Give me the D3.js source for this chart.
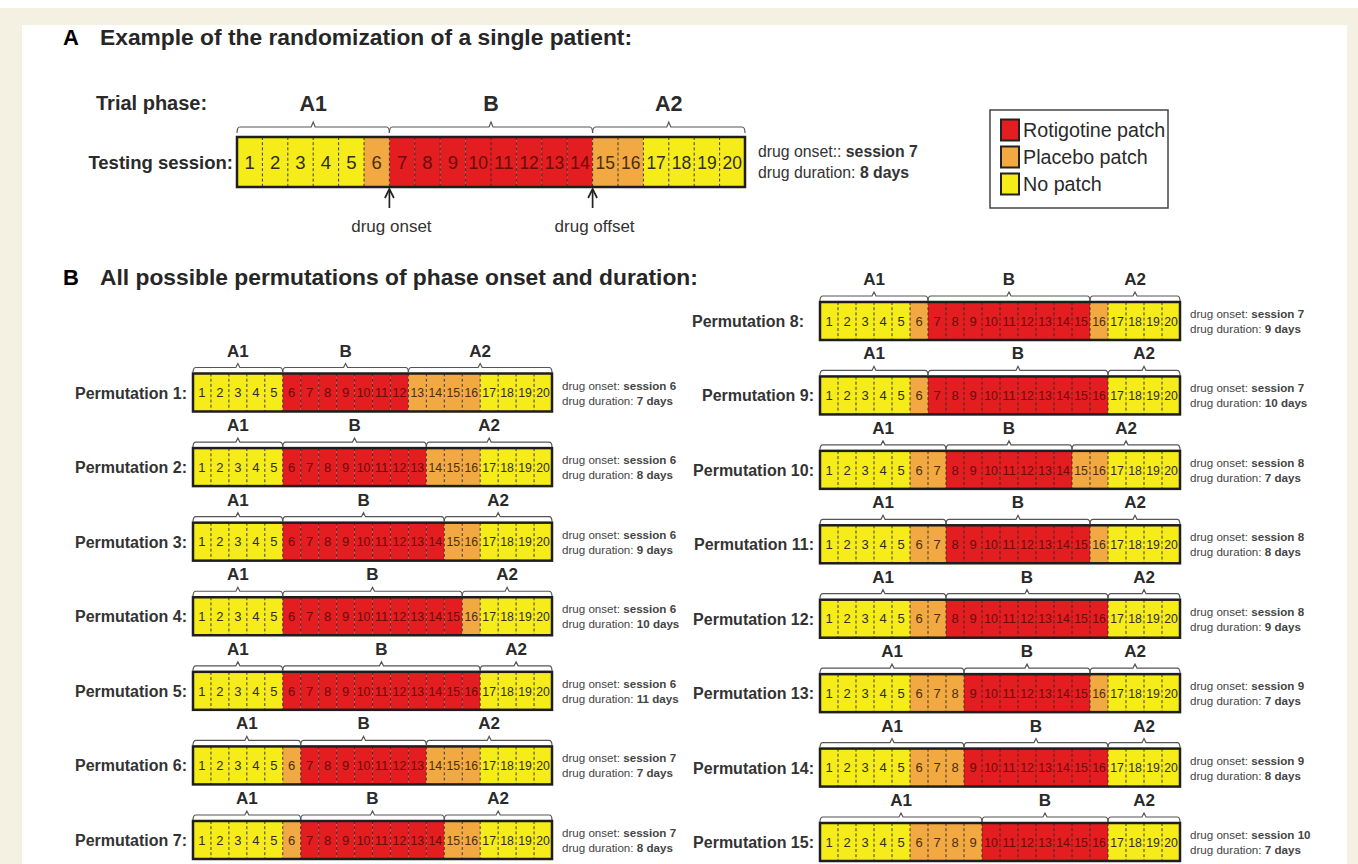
<!DOCTYPE html>
<html><head><meta charset="utf-8">
<script src="https://cdn.jsdelivr.net/npm/d3@7"></script>
<style>
body{margin:0;background:#fff;}
svg{display:block;font-family:Arial,"Liberation Sans",Helvetica,sans-serif;}
</style>
</head><body>
<svg id="chart" width="1358" height="864"></svg>
<script>
// ---------------- data ----------------
const sessions = [1,2,3,4,5,6,7,8,9,10,11,12,13,14,15,16,17,18,19,20];
const phaseNames = ["A1","B","A2"];
const patchCodes = ["R","P","N"];
const legendLabels = ["Rotigotine patch","Placebo patch","No patch"];
const patchColors = ["#e41d20","#f2a942","#f6ec19"];

const exampleOnset = 7;
const exampleDuration = 8;
const examplePatches = "NNNNNPRRRRRRRRPPNNNN";

const permNames = ["Permutation 1:","Permutation 2:","Permutation 3:","Permutation 4:","Permutation 5:",
  "Permutation 6:","Permutation 7:","Permutation 8:","Permutation 9:","Permutation 10:",
  "Permutation 11:","Permutation 12:","Permutation 13:","Permutation 14:","Permutation 15:"];
const permOnsets =    [6,6,6,6,6,7,7,7,7,8,8,8,9,9,10];
const permDurations = [7,8,9,10,11,7,8,9,10,7,8,9,7,8,7];
const permPatches = [
  "NNNNNRRRRRRRPPPPNNNN",
  "NNNNNRRRRRRRRPPPNNNN",
  "NNNNNRRRRRRRRRPPNNNN",
  "NNNNNRRRRRRRRRRPNNNN",
  "NNNNNRRRRRRRRRRRNNNN",
  "NNNNNPRRRRRRRPPPNNNN",
  "NNNNNPRRRRRRRRPPNNNN",
  "NNNNNPRRRRRRRRRPNNNN",
  "NNNNNPRRRRRRRRRRNNNN",
  "NNNNNPPRRRRRRRPPNNNN",
  "NNNNNPPRRRRRRRRPNNNN",
  "NNNNNPPRRRRRRRRRNNNN",
  "NNNNNPPPRRRRRRRPNNNN",
  "NNNNNPPPRRRRRRRRNNNN",
  "NNNNNPPPPRRRRRRRNNNN"
];

// ---------------- drawing ----------------
const svg = d3.select("#chart");
const color = d3.scaleOrdinal().domain(patchCodes).range(patchColors);
const numColor = d3.scaleOrdinal().domain(patchCodes).range(["#6a0c0c","#4a2f0e","#2e2e22"]);

// page background
svg.append("rect").attr("x",0).attr("y",0).attr("width",1358).attr("height",864).attr("fill","#ffffff");
svg.append("rect").attr("x",0).attr("y",8).attr("width",1358).attr("height",856).attr("fill","#f4f0e2");
svg.append("rect").attr("x",22).attr("y",25).attr("width",1325).attr("height",839).attr("fill","#ffffff");

function bracePath(xa, xb, y, hook, tip){
  const xm = (xa+xb)/2;
  return `M${xa},${y+hook} Q${xa},${y} ${xa+3},${y} L${xm-2},${y} L${xm},${y-tip} L${xm+2},${y} L${xb-3},${y} Q${xb},${y} ${xb},${y+hook}`;
}

function drawStrip(g, o){
  const x = d3.scaleBand().domain(sessions).range([o.x0, o.x1]).paddingInner(0).paddingOuter(0);
  const top = o.cy - o.h/2;
  const cells = g.selectAll("g.cell").data(sessions).join("g").attr("class","cell");
  cells.append("rect")
    .attr("x", d => x(d)).attr("y", top).attr("width", x.bandwidth()).attr("height", o.h)
    .attr("fill", (d,i) => color(o.patches[i]));
  cells.append("text")
    .attr("x", d => x(d) + x.bandwidth()/2).attr("y", o.cy + o.numSize*0.36)
    .attr("text-anchor","middle").attr("font-size", o.numSize)
    .attr("fill", (d,i) => numColor(o.patches[i]))
    .attr("textLength", d => d >= 10 ? Math.min(x.bandwidth()-2, o.numSize*1.05) : null)
    .attr("lengthAdjust","spacingAndGlyphs")
    .text(d => d);
  // dashed dividers
  g.selectAll("line.div").data(sessions.slice(1)).join("line").attr("class","div")
    .attr("x1", d => x(d)).attr("x2", d => x(d))
    .attr("y1", top).attr("y2", top + o.h)
    .attr("stroke","#2a2a2a").attr("stroke-width",0.9).attr("stroke-dasharray","3,2.2");
  // outline
  g.append("rect").attr("x",o.x0).attr("y",top).attr("width",o.x1-o.x0).attr("height",o.h)
    .attr("fill","none").attr("stroke","#1e1e1e").attr("stroke-width",o.outline);
  // phases
  const b1 = x(o.onset), b2 = x(o.onset + o.duration - 1) + x.bandwidth();
  const spans = [[o.x0,b1],[b1,b2],[b2,o.x1]];
  const by = top - o.braceGap;
  g.selectAll("path.brace").data(spans).join("path").attr("class","brace")
    .attr("d", s => bracePath(s[0], s[1], by, o.braceHook, o.braceTip))
    .attr("fill","none").attr("stroke","#555").attr("stroke-width",1.2);
  g.selectAll("text.phase").data(spans).join("text").attr("class","phase")
    .attr("x", s => (s[0]+s[1])/2).attr("y", o.phaseBase)
    .attr("text-anchor","middle").attr("font-size",o.phaseSize).attr("font-weight","bold")
    .attr("fill","#2a2a2a")
    .text((s,i) => phaseNames[i]);
  return {x, b1, b2, top};
}

// ---------- Panel A ----------
svg.append("text").attr("x",63).attr("y",45).attr("font-size",22).attr("font-weight","bold").attr("fill","#000").text("A");
svg.append("text").attr("x",100).attr("y",45).attr("font-size",22.8).attr("font-weight","bold").attr("fill","#262626")
  .text("Example of the randomization of a single patient:");

svg.append("text").attr("x",96).attr("y",110).attr("font-size",20).attr("font-weight","bold").attr("fill","#2a2a2a").text("Trial phase:");
svg.append("text").attr("x",233).attr("y",169).attr("text-anchor","end").attr("font-size",18.5).attr("font-weight","bold").attr("fill","#2a2a2a").text("Testing session:");

const gA = svg.append("g");
const stripA = drawStrip(gA, {x0:237, x1:745, cy:162, h:50, patches:examplePatches, onset:exampleOnset, duration:exampleDuration,
  numSize:18.5, phaseSize:21.5, phaseBase:111, braceGap:10, braceHook:6, braceTip:5, outline:2.5});

// arrows
const arrowXs = [stripA.b1, stripA.b2];
const arrowLabels = ["drug onset","drug offset"];
arrowXs.forEach((ax,i) => {
  svg.append("line").attr("x1",ax).attr("x2",ax).attr("y1",208).attr("y2",190)
    .attr("stroke","#222").attr("stroke-width",1.7);
  svg.append("path").attr("d",`M${ax-4.5},${198} L${ax},${189} L${ax+4.5},${198}`).attr("fill","none").attr("stroke","#222").attr("stroke-width",1.7);
  svg.append("text").attr("x",ax+2).attr("y",232).attr("text-anchor","middle").attr("font-size",17).attr("fill","#333").text(arrowLabels[i]);
});

const infoA = svg.append("g").attr("font-size",15.8).attr("fill","#333");
const tA1 = infoA.append("text").attr("x",758).attr("y",157);
tA1.append("tspan").text("drug onset:: ");
tA1.append("tspan").attr("font-weight","bold").text("session " + exampleOnset);
const tA2 = infoA.append("text").attr("x",758).attr("y",178);
tA2.append("tspan").text("drug duration: ");
tA2.append("tspan").attr("font-weight","bold").text(exampleDuration + " days");

// legend
const lg = svg.append("g");
lg.append("rect").attr("x",990).attr("y",110).attr("width",178).attr("height",98).attr("fill","#fff").attr("stroke","#444").attr("stroke-width",1.5);
const ly = d3.scalePoint().domain(patchCodes).range([130,184]);
patchCodes.forEach((c,i) => {
  lg.append("rect").attr("x",1001).attr("y",ly(c)-10.5).attr("width",18).attr("height",21)
    .attr("fill",color(c)).attr("stroke","#222").attr("stroke-width",2);
  lg.append("text").attr("x",1023).attr("y",ly(c)+7).attr("font-size",19.7).attr("fill","#2a2a2a").text(legendLabels[i]);
});

// ---------- Panel B ----------
svg.append("text").attr("x",63).attr("y",285).attr("font-size",22).attr("font-weight","bold").attr("fill","#000").text("B");
svg.append("text").attr("x",100).attr("y",285).attr("font-size",22.8).attr("font-weight","bold").attr("fill","#262626")
  .text("All possible permutations of phase onset and duration:");

const yLeft = d3.scaleLinear().domain([1,7]).range([392.5,840]);
const yRight = d3.scaleLinear().domain([8,15]).range([321,842]);

permNames.forEach((name,i) => {
  const k = i + 1;
  const left = k <= 7;
  const cy = left ? yLeft(k) : yRight(k);
  const x0 = left ? 193 : 820, x1 = left ? 552 : 1180;
  const g = svg.append("g");
  const h = 38;
  drawStrip(g, {x0, x1, cy, h, patches:permPatches[i], onset:permOnsets[i], duration:permDurations[i],
    numSize:13, phaseSize:17, phaseBase:cy - h/2 - 17, braceGap:6, braceHook:5, braceTip:4, outline:2.5});
  g.append("text").attr("x", x0 - (k === 8 ? 16 : 6)).attr("y", cy + 6).attr("text-anchor","end")
    .attr("font-size",16).attr("font-weight","bold").attr("fill","#333").text(name);
  const info = g.append("g").attr("font-size",11.6).attr("fill","#444");
  const t1 = info.append("text").attr("x", x1 + 10).attr("y", cy - 3);
  t1.append("tspan").text("drug onset: ");
  t1.append("tspan").attr("font-weight","bold").text("session " + permOnsets[i]);
  const t2 = info.append("text").attr("x", x1 + 10).attr("y", cy + 12);
  t2.append("tspan").text("drug duration: ");
  t2.append("tspan").attr("font-weight","bold").text(permDurations[i] + " days");
});
</script>
</body></html>
